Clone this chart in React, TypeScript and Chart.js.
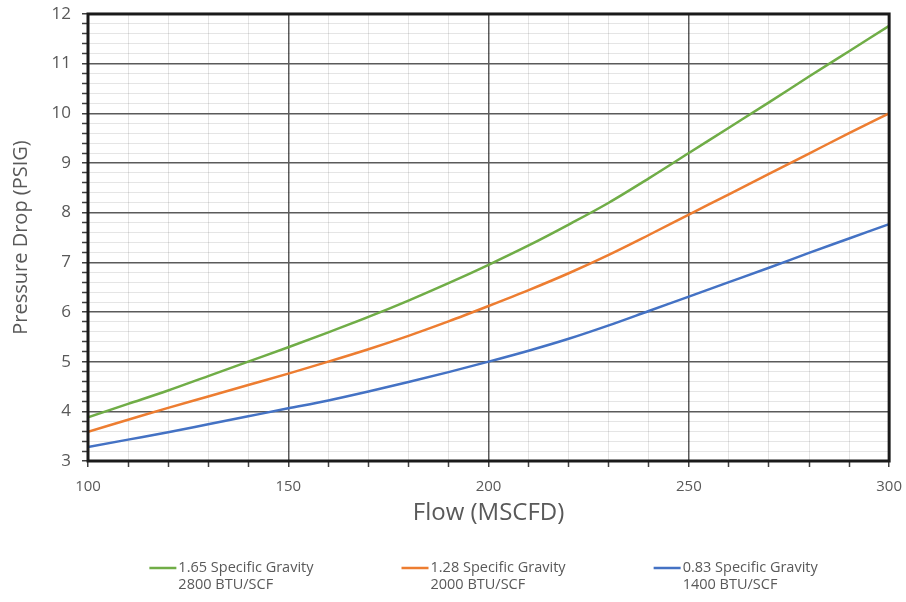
import React, { useEffect, useRef } from "react";
import { Chart, registerables } from "chart.js";

Chart.register(...registerables);

// Flow (MSCFD) sample points
const flowValues = [100, 110, 120, 130, 140, 150, 160, 170, 180, 190, 200, 210, 220, 230, 240, 250, 260, 270, 280, 290, 300];

// Pressure drop (PSIG) for each gas
const gravity165 = [3.88, 4.15, 4.42, 4.71, 5.0, 5.29, 5.59, 5.9, 6.23, 6.58, 6.95, 7.34, 7.76, 8.2, 8.69, 9.2, 9.71, 10.22, 10.74, 11.25, 11.76];
const gravity128 = [3.59, 3.83, 4.07, 4.3, 4.53, 4.76, 5.0, 5.25, 5.52, 5.81, 6.12, 6.44, 6.78, 7.15, 7.55, 7.96, 8.37, 8.78, 9.19, 9.6, 10.0];
const gravity083 = [3.28, 3.43, 3.58, 3.74, 3.9, 4.06, 4.22, 4.4, 4.59, 4.79, 5.0, 5.22, 5.46, 5.73, 6.02, 6.31, 6.6, 6.89, 7.19, 7.48, 7.77];

const seriesLabels = [
  ["1.65 Specific Gravity", "2800 BTU/SCF"],
  ["1.28 Specific Gravity", "2000 BTU/SCF"],
  ["0.83 Specific Gravity", "1400 BTU/SCF"],
];
const seriesColors = ["#70AD47", "#ED7D31", "#4472C4"];

const xAxisTitle = "Flow (MSCFD)";
const yAxisTitle = "Pressure Drop (PSIG)";

const FONT = "'Open Sans', 'Noto Sans', sans-serif";
const TEXT = "#595959";

const isWhole = (v: number, step: number) => Math.abs(v / step - Math.round(v / step)) < 1e-6;

const framePlugin = {
  id: "plotFrame",
  afterDatasetsDraw(chart: any) {
    const { ctx, chartArea } = chart;
    const { left, top, right, bottom } = chartArea;
    ctx.save();
    ctx.strokeStyle = "#1a1a1a";
    ctx.lineWidth = 3;
    ctx.strokeRect(left, top, right - left, bottom - top);
    ctx.restore();
  },
};

// Two-line legend drawn on the canvas below the axis title
const twoLineLegend = {
  id: "twoLineLegend",
  afterDraw(chart: any) {
    const { ctx, chartArea } = chart;
    const fontSize = 14.5;
    const sampleW = 27;
    const sampleGap = 2;
    const itemGap = 88;
    ctx.save();
    ctx.font = `${fontSize}px ${FONT}`;
    const items = chart.data.datasets.map((ds: any) => {
      const lines: string[] = ds.legendLines || [ds.label];
      const textW = Math.max(...lines.map((l) => ctx.measureText(l).width));
      return { lines, color: ds.borderColor, width: sampleW + sampleGap + textW };
    });
    const total = items.reduce((s: number, it: any) => s + it.width, 0) + itemGap * (items.length - 1);
    const center = (chartArea.left + chartArea.right) / 2 - 5;
    let x = center - total / 2;
    const y1 = chart.height - 34;
    const lineH = 17;
    ctx.textBaseline = "middle";
    ctx.textAlign = "left";
    items.forEach((it: any) => {
      ctx.strokeStyle = it.color;
      ctx.lineWidth = 2.5;
      ctx.beginPath();
      ctx.moveTo(x, y1);
      ctx.lineTo(x + sampleW, y1);
      ctx.stroke();
      ctx.fillStyle = TEXT;
      it.lines.forEach((l: string, k: number) => {
        ctx.fillText(l, x + sampleW + sampleGap, y1 + k * lineH);
      });
      x += it.width + itemGap;
    });
    ctx.restore();
  },
};

export default function App() {
  const canvasRef = useRef<HTMLCanvasElement | null>(null);

  useEffect(() => {
    document.body.style.margin = "0";
    const canvas = canvasRef.current;
    if (!canvas) return;
    const series = [gravity165, gravity128, gravity083];
    const chart = new Chart(canvas, {
      type: "line",
      data: {
        datasets: series.map((vals, i) => ({
          label: seriesLabels[i].join(" "),
          legendLines: seriesLabels[i],
          data: flowValues.map((x, j) => ({ x, y: vals[j] })),
          borderColor: seriesColors[i],
          backgroundColor: seriesColors[i],
          borderWidth: 2.5,
          pointRadius: 0,
          cubicInterpolationMode: "monotone" as const,
          fill: false,
        })) as any,
      },
      options: {
        animation: false,
        responsive: true,
        maintainAspectRatio: false,
        layout: { padding: { left: 0, right: 0, top: 2, bottom: 66 } },
        plugins: {
          tooltip: { enabled: false },
          legend: { display: false },
        },
        scales: {
          x: {
            type: "linear",
            min: 100,
            max: 300,
            border: { display: false },
            afterFit: (scale: any) => {
              scale.height = 75;
            },
            ticks: {
              stepSize: 10,
              autoSkip: false,
              maxTicksLimit: 100,
              maxRotation: 0,
              padding: 4,
              color: TEXT,
              font: { family: FONT, size: 15, lineHeight: 2.1 },
              callback: (v: any) => (isWhole(Number(v), 50) ? String(v) : ""),
            },
            grid: {
              color: (ctx: any) => (isWhole(ctx.tick?.value ?? 0, 50) ? "#5a5a5a" : "rgba(0,0,0,0.1)"),
              lineWidth: (ctx: any) => (isWhole(ctx.tick?.value ?? 0, 50) ? 1.5 : 1),
              tickColor: "#404040",
              tickLength: 6,
              tickWidth: 1.5,
            },
            title: {
              display: true,
              text: xAxisTitle,
              color: TEXT,
              font: { family: FONT, size: 24 },
              padding: { top: 0, bottom: 8 },
            },
          },
          y: {
            type: "linear",
            min: 3,
            max: 12,
            border: { display: false },
            afterFit: (scale: any) => {
              scale.width = 88;
            },
            ticks: {
              stepSize: 0.2,
              autoSkip: false,
              maxTicksLimit: 100,
              padding: 11,
              color: TEXT,
              font: { family: FONT, size: 17, lineHeight: 0.35 },
              callback: (v: any) => (isWhole(Number(v), 1) ? String(Math.round(Number(v))) : ""),
            },
            grid: {
              color: (ctx: any) => (isWhole(ctx.tick?.value ?? 0, 1) ? "#5a5a5a" : "rgba(0,0,0,0.1)"),
              lineWidth: (ctx: any) => (isWhole(ctx.tick?.value ?? 0, 1) ? 1.5 : 1),
              tickColor: "#404040",
              tickLength: 6,
              tickWidth: 1.5,
            },
            title: {
              display: true,
              text: yAxisTitle,
              color: TEXT,
              font: { family: FONT, size: 20 },
              padding: { top: 9, bottom: 0 },
            },
          },
        },
      },
      plugins: [framePlugin, twoLineLegend],
    });
    return () => chart.destroy();
  }, []);

  return (
    <div style={{ width: 906, height: 602, position: "relative" }}>
      <canvas ref={canvasRef} />
    </div>
  );
}
